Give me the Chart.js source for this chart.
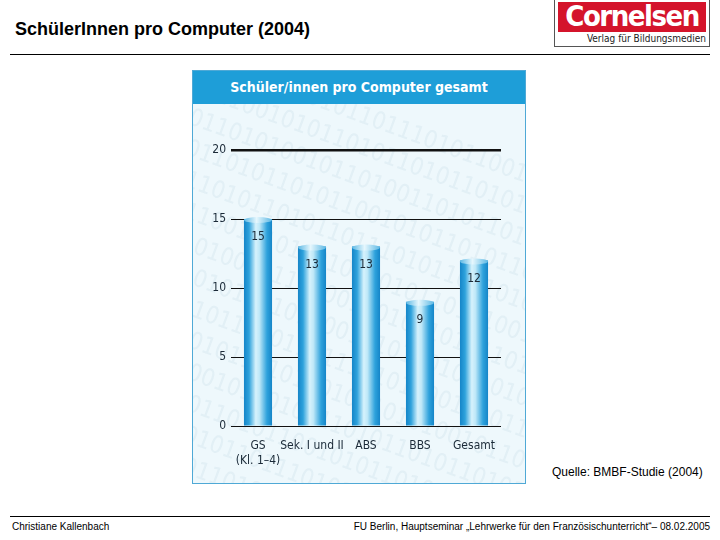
<!DOCTYPE html>
<html>
<head>
<meta charset="utf-8">
<script src="https://cdn.jsdelivr.net/npm/chart.js@4.4.1/dist/chart.umd.min.js"></script>
<style>
  html, body { margin:0; padding:0; background:#fff; }
  body { width:720px; height:540px; position:relative; overflow:hidden; font-family:"Liberation Sans", Arial, sans-serif; }
  .title { position:absolute; left:15px; top:19px; font-size:18px; font-weight:bold; color:#000; }
  .hline { position:absolute; left:10px; width:700px; height:0; border-top:1px solid #000; }
  .logo { position:absolute; left:554px; top:0; width:154px; height:46px; border:1px solid #555; border-top:none; background:#fff; }
  .logo .red { position:absolute; left:3px; top:2px; width:148px; height:30px; background:#d4142b; overflow:hidden; }
  .logo .red span { position:absolute; left:0; width:148px; text-align:center; top:-3px; font-family:"DejaVu Sans Condensed","Liberation Sans Narrow","Liberation Sans",sans-serif; font-weight:bold; font-size:29px; color:#fff; letter-spacing:-1.5px; }
  .logo .sub { position:absolute; right:3px; top:33px; font-size:10px; color:#222; font-family:"DejaVu Sans Condensed","Liberation Sans",sans-serif; }
  .panel { position:absolute; left:192px; top:70px; width:332px; height:412px; background:#eef8fc; border:1px solid #4fa9d6; }
  .phead { position:absolute; left:0; top:0; width:332px; height:33px; background:#1e9ed8; color:#fff; font-family:"DejaVu Sans Condensed","Liberation Sans Narrow","Liberation Sans",sans-serif; font-weight:bold; font-size:14px; line-height:33px; text-align:center; }
  #wrap { position:absolute; left:0; top:33px; width:332px; height:379px; }
  .src { position:absolute; left:552px; top:465px; font-size:12px; color:#000; }
  .foot { position:absolute; top:521px; font-size:10px; color:#000; }
</style>
</head>
<body>
<div class="title">SchülerInnen pro Computer (2004)</div>
<div class="logo"><div class="red"><span>Cornelsen</span></div><div class="sub">Verlag für Bildungsmedien</div></div>
<div class="hline" style="top:54px"></div>
<div class="panel">
  <div class="phead">Schüler/innen pro Computer gesamt</div>
  <div id="wrap"><canvas id="c" width="332" height="379"></canvas></div>
</div>
<div class="src">Quelle: BMBF-Studie (2004)</div>
<div class="hline" style="top:516px"></div>
<div class="foot" style="left:12px">Christiane Kallenbach</div>
<div class="foot" style="right:10px">FU Berlin, Hauptseminar „Lehrwerke für den Französischunterricht“– 08.02.2005</div>

<script>
const categories = [["GS", "(Kl. 1–4)"], "Sek. I und II", "ABS", "BBS", "Gesamt"];
const values = [15, 13, 13, 9, 12];
const yTicks = [0, 5, 10, 15, 20];

const BAR_PCT = 0.52;
const narrow = '"DejaVu Sans Condensed","Liberation Sans Narrow","Liberation Sans",sans-serif';

function barFill(ctx) {
  const chart = ctx.chart;
  const xs = chart.scales.x;
  if (!xs || !chart.chartArea) return '#2a9ad6';
  const cx = xs.getPixelForValue(ctx.dataIndex);
  const w = (chart.chartArea.right - chart.chartArea.left) / categories.length * BAR_PCT;
  const g = chart.ctx.createLinearGradient(cx - w/2, 0, cx + w/2, 0);
  g.addColorStop(0, '#1585c8');
  g.addColorStop(0.18, '#2ea2dc');
  g.addColorStop(0.42, '#d6f2fc');
  g.addColorStop(0.55, '#bfe8f8');
  g.addColorStop(0.82, '#2ea2dc');
  g.addColorStop(1, '#1585c8');
  return g;
}

const deco = {
  id: 'deco',
  beforeDraw(chart) {
    const c = chart.ctx;
    c.save();
    c.fillStyle = 'rgba(190,215,228,0.25)';
    c.font = '24px ' + narrow;
    c.rotate(0.35);
    const rows = ['0101011010110101101', '1101011001010110101', '1010110101001011010', '0110101101011010110'];
    for (let i = 0; i < 15; i++) {
      c.fillText(rows[i % 4] + rows[(i+1) % 4], -60 + (i % 3) * 10, -40 + i * 30);
    }
    c.restore();
  },
  afterDatasetsDraw(chart) {
    const c = chart.ctx;
    const meta = chart.getDatasetMeta(0);
    c.save();
    meta.data.forEach((bar, i) => {
      const w = bar.width;
      const g = c.createLinearGradient(bar.x - w/2, 0, bar.x + w/2, 0);
      g.addColorStop(0, '#5cb8e4');
      g.addColorStop(0.45, '#e6f7fd');
      g.addColorStop(1, '#5cb8e4');
      c.fillStyle = g;
      c.beginPath();
      c.ellipse(bar.x, bar.y + 1, w/2, 3, 0, 0, Math.PI * 2);
      c.fill();
      c.fillStyle = '#1b2a38';
      c.font = '12px ' + narrow;
      c.textAlign = 'center';
      c.textBaseline = 'middle';
      c.fillText(String(values[i]), bar.x, bar.y + 18);
    });
    c.restore();
  }
};

new Chart(document.getElementById('c'), {
  type: 'bar',
  data: {
    labels: categories,
    datasets: [{
      data: values,
      backgroundColor: barFill,
      borderWidth: 0,
      barPercentage: BAR_PCT,
      categoryPercentage: 1.0
    }]
  },
  options: {
    responsive: false,
    animation: false,
    layout: { padding: { top: 46, right: 24, left: 0, bottom: 0 } },
    plugins: { legend: { display: false }, tooltip: { enabled: false } },
    scales: {
      x: {
        grid: { display: false, drawTicks: false },
        border: { display: false },
        ticks: { color: '#1b2a38', font: { family: narrow, size: 12 }, padding: 13, maxRotation: 0, autoSkip: false },
        afterFit(s) { s.height = 57; }
      },
      y: {
        min: 0, max: 20,
        afterBuildTicks(s) { s.ticks = yTicks.map(v => ({ value: v })); },
        grid: {
          color: '#111',
          lineWidth: (ctx) => (ctx.tick && ctx.tick.value === 20 ? 2.5 : 1),
          drawTicks: false
        },
        border: { display: false },
        ticks: { color: '#1b2a38', font: { family: narrow, size: 12 }, padding: 5 },
        afterFit(s) { s.width = 38; }
      }
    }
  },
  plugins: [deco]
});
</script>
</body>
</html>
